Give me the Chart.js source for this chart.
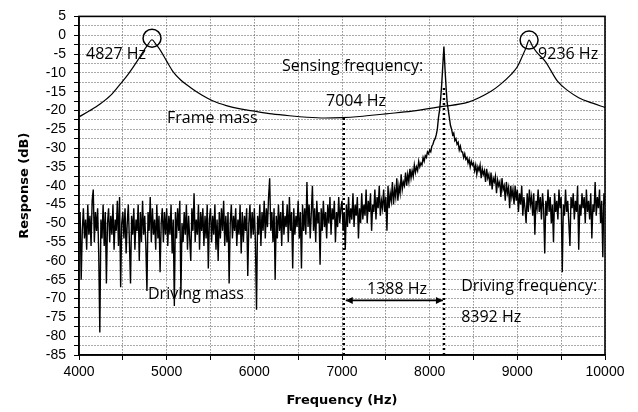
<!DOCTYPE html>
<html>
<head>
<meta charset="utf-8">
<script src="https://cdn.jsdelivr.net/npm/chart.js@4/dist/chart.umd.min.js"></script>
<style>
  html, body { margin: 0; background: #fff; }
</style>
</head>
<body>
<canvas id="resp" width="638" height="412"></canvas>
<script>
// frame mass response (smooth two-peak curve)
const frameHz = [4000, 4120, 4240, 4360, 4470, 4560, 4620, 4680, 4730, 4780, 4833, 4880, 4925, 5000, 5070, 5160, 5270, 5400, 5530, 5680, 5840, 6000, 6200, 6400, 6600, 6800, 7000, 7200, 7500, 7800, 8130, 8440, 8700, 8800, 8930, 9000, 9060, 9100, 9134, 9170, 9220, 9320, 9460, 9580, 9700, 9850, 10000];
const frameDb = [-21.7, -20.1, -18.3, -16.0, -13.0, -10.4, -8.4, -6.3, -4.4, -2.7, -1.2, -2.5, -3.9, -6.9, -9.6, -11.9, -13.9, -15.9, -17.5, -18.7, -19.6, -20.2, -20.9, -21.4, -21.8, -22.0, -21.9, -21.6, -20.9, -20.2, -19.0, -17.8, -14.9, -13.2, -10.4, -8.4, -5.4, -3.3, -1.3, -2.8, -4.5, -7.0, -12.3, -14.8, -16.6, -18.0, -19.2];

// driving mass response, sampled every 12.5 Hz from 4000 Hz (one row = 250 Hz)
const drivingStartHz = 4000;
const drivingStepHz = 12.5;
const drivingDb = [
  -50, -47, -65, -52, -46, -54, -49, -57, -45, -53, -48, -56, -44, -41, -55, -47, -52, -46, -58, -79,
  -49, -54, -45, -56, -47, -66, -50, -46, -55, -48, -53, -45, -57, -49, -52, -44, -56, -43, -67, -50,
  -47, -54, -46, -58, -50, -45, -55, -66, -48, -53, -46, -57, -49, -52, -45, -60, -47, -55, -44, -53,
  -48, -56, -68, -47, -52, -43, -55, -46, -53, -49, -57, -45, -54, -48, -63, -50, -46, -55, -47, -53,
  -46, -56, -48, -53, -45, -58, -49, -72, -47, -54, -46, -52, -44, -69, -50, -55, -47, -53, -45, -57,
  -48, -54, -60, -46, -52, -42, -55, -49, -53, -45, -57, -47, -52, -46, -56, -48, -54, -45, -62, -49,
  -46, -55, -48, -53, -45, -57, -49, -60, -47, -54, -46, -52, -44, -56, -48, -55, -47, -66, -50, -45,
  -54, -48, -52, -46, -56, -49, -53, -45, -58, -47, -55, -48, -52, -46, -64, -50, -45, -54, -47, -53,
  -46, -55, -73, -48, -53, -45, -56, -47, -52, -44, -54, -46, -51, -43, -38, -52, -47, -55, -46, -65,
  -48, -54, -45, -52, -47, -56, -44, -53, -48, -51, -45, -55, -43, -52, -47, -62, -46, -53, -48, -51,
  -44, -54, -47, -62, -45, -52, -46, -53, -39, -51, -45, -54, -47, -40, -52, -46, -55, -44, -50, -47,
  -61, -46, -52, -44, -51, -47, -54, -45, -50, -43, -53, -46, -49, -44, -55, -47, -51, -43, -50, -46,
  -44, -52, -47, -57, -45, -51, -43, -50, -46, -49, -42, -51, -45, -48, -43, -54, -46, -50, -42, -49,
  -45, -48, -41, -50, -44, -47, -42, -52, -45, -47, -41, -49, -43, -46, -40, -48, -44, -46, -41, -47,
  -43, -52, -40, -46, -42, -44, -39, -45, -41, -43, -38, -44, -40, -42, -37, -41, -39, -40, -36.5, -40,
  -37, -39, -35.5, -38, -36, -37.5, -34.5, -36.5, -35, -36, -33.5, -35, -34, -34.5, -32.5, -33.5, -32, -32.5, -31, -31.5,
  -30.5, -31, -29.5, -29, -28, -27.5, -26.5, -25, -22, -20, -17, -13, -8, -3, -9, -14, -18, -20, -22, -24,
  -25, -26.5, -26, -28, -27.5, -29, -28.5, -30.5, -29.5, -31, -31, -32.5, -31.5, -33, -32.5, -34, -33, -35, -33.5, -34.5,
  -34, -36, -34.5, -37, -35, -36, -34.5, -38, -35.5, -37, -36, -39, -35.5, -38, -37, -40, -36.5, -41, -38, -39,
  -37.5, -42, -38.5, -40, -39, -43, -38, -41, -40, -44, -39, -42, -40.5, -46, -40, -43, -41, -45, -40, -44,
  -41, -47, -42, -45, -40, -48, -43, -46, -50, -42, -47, -41, -45, -43, -48, -42, -53, -44, -46, -41,
  -47, -43, -49, -42, -46, -58, -44, -48, -41, -47, -43, -50, -45, -55, -42, -47, -44, -49, -41, -46,
  -43, -63, -45, -48, -41, -47, -44, -50, -56, -43, -46, -42, -49, -44, -47, -40, -57, -45, -48, -42,
  -46, -43, -50, -41, -47, -44, -49, -42, -54, -45, -47, -39, -48, -43, -46, -41, -50, -44, -59, -42,
  -45
];

// marker lines: frequency and the level where the dotted line starts
const markerHz = [7020, 8163];
const markerTopDb = [-22, -14];

// circled resonance peaks
const peakHz = [4833, 9134];
const peakDb = [-0.8, -1.3];

const notes = [
  { text: '4827 Hz', hz: 4080, db: -5.2 },
  { text: '9236 Hz', hz: 9237, db: -5.2 },
  { text: 'Sensing frequency:', hz: 6316, db: -8.3 },
  { text: '7004 Hz', hz: 6818, db: -17.5 },
  { text: 'Frame mass', hz: 5004, db: -22.2 },
  { text: 'Driving mass', hz: 4787, db: -68.8 },
  { text: '1388 Hz', hz: 7286, db: -67.5 },
  { text: 'Driving frequency:', hz: 8359, db: -66.7 },
  { text: '8392 Hz', hz: 8359, db: -75 }
];
const arrowDb = -70.5;

const framePoints = frameHz.map((hz, i) => ({ x: hz, y: frameDb[i] }));
const drivingPoints = drivingDb.map((db, i) => ({ x: drivingStartHz + i * drivingStepHz, y: db }));

const overlay = {
  id: 'overlay',
  afterDatasetsDraw(chart) {
    const { ctx, chartArea: a, scales: { x, y } } = chart;
    ctx.save();

    // thick dotted marker lines
    ctx.strokeStyle = '#000';
    ctx.lineWidth = 2.5;
    ctx.setLineDash([2, 3]);
    markerHz.forEach((hz, i) => {
      const px = x.getPixelForValue(hz);
      ctx.beginPath();
      ctx.moveTo(px, y.getPixelForValue(markerTopDb[i]));
      ctx.lineTo(px, a.bottom);
      ctx.stroke();
    });
    ctx.setLineDash([]);

    // double arrow between the two frequencies
    const ay = y.getPixelForValue(arrowDb);
    const x1 = x.getPixelForValue(markerHz[0]) + 2;
    const x2 = x.getPixelForValue(markerHz[1]) - 1;
    ctx.lineWidth = 1.8;
    ctx.beginPath();
    ctx.moveTo(x1, ay);
    ctx.lineTo(x2, ay);
    ctx.stroke();
    ctx.fillStyle = '#000';
    [[x1, 1], [x2, -1]].forEach(([px, dir]) => {
      ctx.beginPath();
      ctx.moveTo(px, ay);
      ctx.lineTo(px + dir * 7, ay - 3.5);
      ctx.lineTo(px + dir * 7, ay + 3.5);
      ctx.closePath();
      ctx.fill();
    });

    // circles on the frame peaks
    ctx.lineWidth = 1.5;
    peakHz.forEach((hz, i) => {
      ctx.beginPath();
      ctx.arc(x.getPixelForValue(hz), y.getPixelForValue(peakDb[i]), 9, 0, Math.PI * 2);
      ctx.stroke();
    });

    // labels
    ctx.font = '16px "Open Sans"';
    ctx.textAlign = 'left';
    ctx.textBaseline = 'middle';
    notes.forEach(n => ctx.fillText(n.text, x.getPixelForValue(n.hz), y.getPixelForValue(n.db)));

    // plot frame
    ctx.lineWidth = 1.6;
    ctx.strokeRect(a.left, a.top, a.right - a.left, a.bottom - a.top);
    ctx.restore();
  }
};

const tickFont = { family: '"Liberation Sans", Arial, sans-serif', size: 14 };
const titleFont = { family: '"DejaVu Sans", sans-serif', size: 13, weight: 'bold' };

new Chart(document.getElementById('resp'), {
  type: 'line',
  data: {
    datasets: [
      {
        label: 'Driving mass',
        data: drivingPoints,
        borderColor: '#000',
        borderWidth: 1.4,
        pointRadius: 0,
        tension: 0
      },
      {
        label: 'Frame mass',
        data: framePoints,
        borderColor: '#000',
        borderWidth: 1.2,
        pointRadius: 0,
        cubicInterpolationMode: 'monotone'
      }
    ]
  },
  options: {
    responsive: false,
    animation: false,
    layout: { padding: { top: 11, right: 33, left: 0, bottom: 0 } },
    plugins: { legend: { display: false }, tooltip: { enabled: false } },
    scales: {
      x: {
        type: 'linear',
        min: 4000,
        max: 10000,
        afterFit(s) { s.height = 57; },
        ticks: {
          stepSize: 500,
          color: '#000',
          font: tickFont,
          padding: 4,
          maxRotation: 0,
          autoSkip: false,
          callback: v => (v % 1000 === 0 ? String(v) : '')
        },
        grid: { color: '#555', lineWidth: 1, tickLength: 5, tickColor: '#000', tickBorderDash: [] },
        border: { dash: [1, 2], color: '#000', width: 1.5 },
        title: { display: true, text: 'Frequency (Hz)', color: '#000', font: titleFont, padding: { top: 0, bottom: 4 } }
      },
      y: {
        min: -85,
        max: 5,
        afterFit(s) { s.width = 79; },
        ticks: {
          stepSize: 2.5,
          color: '#000',
          font: tickFont,
          padding: 8,
          autoSkip: false,
          callback: v => (v % 5 === 0 ? String(v) : '')
        },
        grid: { color: '#555', lineWidth: 1, tickLength: 5, tickColor: '#000', tickBorderDash: [] },
        border: { dash: [1, 2], color: '#000', width: 1.5 },
        title: { display: true, text: 'Response (dB)', color: '#000', font: titleFont, padding: { top: 17, bottom: 0 } }
      }
    }
  },
  plugins: [overlay]
});
</script>
</body>
</html>
